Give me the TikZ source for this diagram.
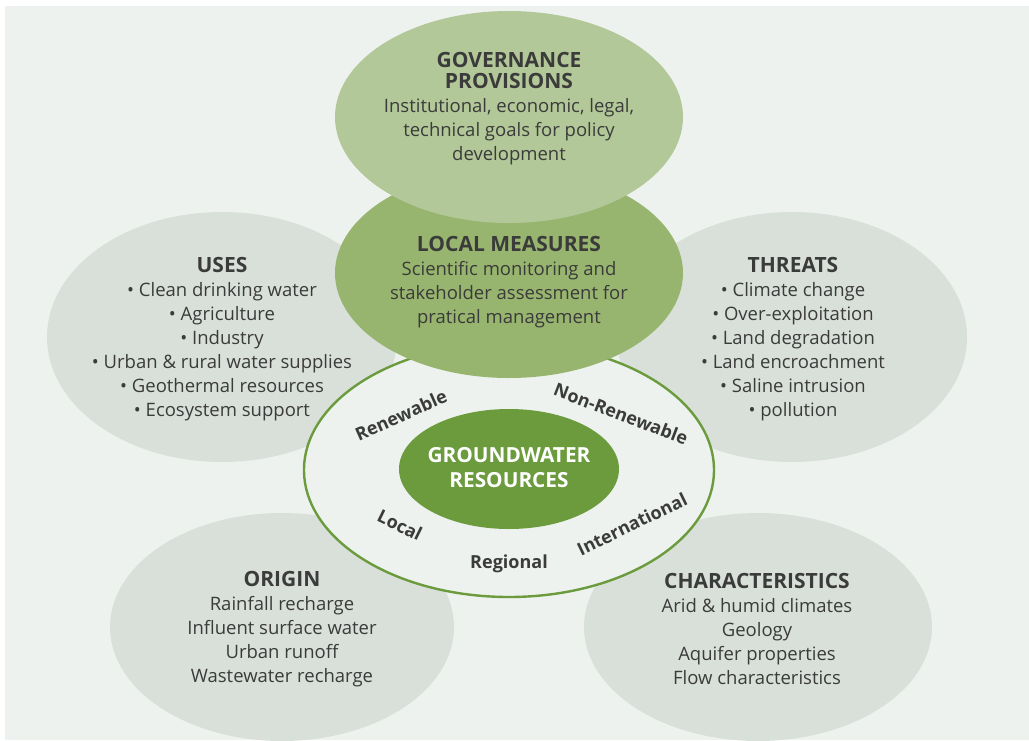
\documentclass[tikz,border=0pt]{standalone}
\usepackage{fontspec}
\setmainfont{Open Sans}
\usetikzlibrary{shapes.geometric}
\definecolor{bgc}{HTML}{EDF2EE}
\definecolor{grayc}{HTML}{D9E0DA}
\definecolor{govc}{HTML}{B3C898}
\definecolor{locc}{HTML}{98B56F}
\definecolor{grnc}{HTML}{6B9B3D}
\definecolor{txtc}{HTML}{3A3B3A}
\newcommand{\ttl}[1]{{\fontsize{21}{24}\selectfont\bfseries #1}}
\begin{document}
\begin{tikzpicture}[x=1pt,y=-1pt,
  blob/.style={ellipse, inner sep=0pt, outer sep=0pt, draw=none},
  txt/.style={align=center, text=txtc, inner sep=0pt, font=\fontsize{18.5}{24}\selectfont},
  ringlbl/.style={text=txtc, inner sep=0pt, font=\fontsize{18}{20}\selectfont\bfseries}]
\useasboundingbox (0,0) rectangle (1029,740);
\fill[bgc] (5,6) rectangle (1029,740);
\begin{scope}
\clip (5,6) rectangle (1029,740);
% gray outer ellipses
\node[blob, fill=grayc, minimum width=350pt, minimum height=250pt] (usesE) at (222,337) {};
\node[blob, fill=grayc, minimum width=350pt, minimum height=250pt] (thrE) at (792,337) {};
\node[blob, fill=grayc, minimum width=344pt, minimum height=228pt] (oriE) at (282,627) {};
\node[blob, fill=grayc, minimum width=348pt, minimum height=228pt] (chaE) at (758,627) {};
\end{scope}
% ring
\node[blob, fill=bgc, draw=grnc, line width=2.4pt, minimum width=410pt, minimum height=254pt] (ring) at (509,470) {};
% local measures and governance
\node[blob, fill=locc, minimum width=348pt, minimum height=210pt] (locE) at (509,273) {};
\node[blob, fill=govc, minimum width=348pt, minimum height=212pt] (govE) at (509,117) {};
% center
\node[blob, fill=grnc, minimum width=220pt, minimum height=120pt] (gwE) at (509,469) {};
\node[align=center, text=white, inner sep=0pt, font=\fontsize{20.8}{25}\selectfont\bfseries] (gw) at (509,468) {GROUNDWATER\\RESOURCES};
% ring labels
\node[ringlbl, rotate=24] (ren) at (401,415) {Renewable};
\node[ringlbl, rotate=-21] (nren) at (621,414) {Non-Renewable};
\node[ringlbl, rotate=-26] (loc) at (400,525) {Local};
\node[ringlbl, rotate=26] (intl) at (632,524) {International};
\node[ringlbl] (reg) at (509,564) {Regional};
% texts
\node[txt] (gov) at (509,109) {\ttl{GOVERNANCE}\\[-3pt]\ttl{PROVISIONS}\\Institutional, economic, legal,\\technical goals for policy\\development};
\node[txt] (locm) at (509,282) {\ttl{LOCAL MEASURES}\\Scientific monitoring and\\stakeholder assessment for\\pratical management};
\node[txt] (uses) at (222,339) {\ttl{USES}\\• Clean drinking water\\• Agriculture\\• Industry\\• Urban \& rural water supplies\\• Geothermal resources\\• Ecosystem support};
\node[txt] (thr) at (793,339) {\ttl{THREATS}\\• Climate change\\• Over-exploitation\\• Land degradation\\• Land encroachment\\• Saline intrusion\\• pollution};
\node[txt] (ori) at (282,629) {\ttl{ORIGIN}\\Rainfall recharge\\Influent surface water\\Urban runoff\\Wastewater recharge};
\node[txt] (cha) at (757,629) {\ttl{CHARACTERISTICS}\\Arid \& humid climates\\Geology\\Aquifer properties\\Flow characteristics};
\end{tikzpicture}
\end{document}
